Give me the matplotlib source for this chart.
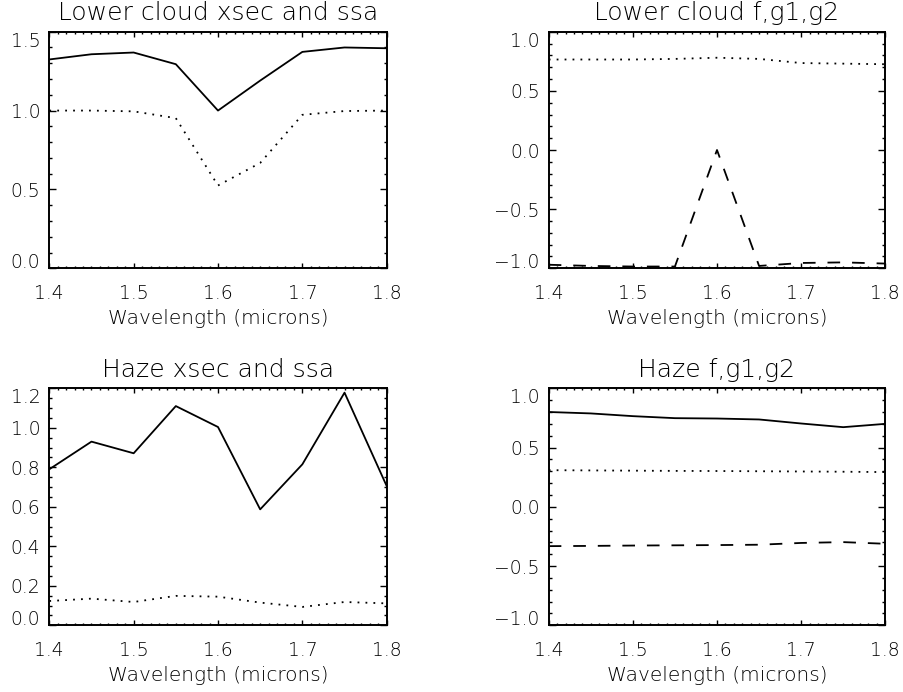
import matplotlib
matplotlib.use("Agg")
import matplotlib.pyplot as plt
from matplotlib.ticker import MultipleLocator, FormatStrFormatter, FuncFormatter

plt.rcParams['font.family'] = ['DejaVu Sans']
plt.rcParams['font.weight'] = 'light'
plt.rcParams['axes.titleweight'] = 'light'
plt.rcParams['axes.labelweight'] = 'light'

wavelength = [1.40, 1.45, 1.50, 1.55, 1.60, 1.65, 1.70, 1.75, 1.80]

# lower cloud: cross section and single scattering albedo
cloud_xsec = [1.324, 1.357, 1.368, 1.294, 1.000, 1.190, 1.372, 1.400, 1.395]
cloud_ssa = [1.000, 1.000, 0.995, 0.952, 0.525, 0.668, 0.973, 0.997, 1.000]

# lower cloud: f, g1, g2
cloud_f = [0.765, 0.765, 0.765, 0.770, 0.780, 0.770, 0.735, 0.730, 0.725]
cloud_g2 = [-0.970, -0.980, -0.985, -0.985, 0.000, -0.980, -0.955, -0.950, -0.960]

# haze: cross section and single scattering albedo
haze_xsec = [0.790, 0.930, 0.871, 1.110, 1.004, 0.587, 0.815, 1.178, 0.705]
haze_ssa = [0.123, 0.135, 0.118, 0.149, 0.145, 0.115, 0.093, 0.118, 0.111]

# haze: f, g1, g2
haze_f = [0.800, 0.788, 0.765, 0.748, 0.745, 0.737, 0.703, 0.672, 0.700]
haze_g1 = [0.309, 0.307, 0.305, 0.303, 0.302, 0.300, 0.298, 0.296, 0.293]
haze_g2 = [-0.332, -0.330, -0.327, -0.325, -0.323, -0.320, -0.305, -0.298, -0.312]

W, H = 904, 692
fig = plt.figure(figsize=(W / 100, H / 100), dpi=100)

def px_axes(x0, x1, y0, y1):
    return fig.add_axes([x0 / W, 1 - y1 / H, (x1 - x0) / W, (y1 - y0) / H])

SOLID = '-'
DOT = (0, (1, 3.4))
DASH = (0, (7, 6.6))

def yfmt(v, pos):
    return ('%.1f' % v).replace('-', '\u2212')

def style(ax, title, ylim, ymajor, yminor):
    ax.set_xlim(1.4, 1.8)
    ax.set_ylim(*ylim)
    ax.xaxis.set_major_locator(MultipleLocator(0.1))
    ax.xaxis.set_minor_locator(MultipleLocator(0.01))
    ax.yaxis.set_major_locator(MultipleLocator(ymajor))
    ax.yaxis.set_minor_locator(MultipleLocator(yminor))
    ax.xaxis.set_major_formatter(FormatStrFormatter('%.1f'))
    ax.yaxis.set_major_formatter(FuncFormatter(yfmt))
    ax.tick_params(which='both', direction='in', top=True, right=True, colors='black', width=1.0)
    ax.tick_params(axis='x', which='major', length=3.4, pad=11.5, labelsize=13.5)
    ax.tick_params(axis='x', which='minor', length=1.7)
    ax.tick_params(axis='y', which='major', length=4.8, pad=6.5, labelsize=13.5)
    ax.tick_params(axis='y', which='minor', length=2.4)
    for s in ax.spines.values():
        s.set_linewidth(1.4)
    ax.set_title(title, fontsize=18, pad=8.4)
    ax.set_xlabel('Wavelength (microns)', fontsize=14.5, labelpad=4)
    # keep the end labels inside the axis height
    fig.canvas.draw()
    ticks = [t for t in ax.yaxis.get_major_ticks()
             if ylim[0] - 1e-9 <= t.get_loc() <= ylim[1] + 1e-9]
    ticks[-1].label1.set_va('top')
    ticks[0].label1.set_va('baseline')

LW = 1.3

ax1 = px_axes(49.3, 386.7, 31.7, 268.3)
ax1.plot(wavelength, cloud_xsec, color='black', lw=LW, linestyle=SOLID)
ax1.plot(wavelength, cloud_ssa, color='black', lw=LW, linestyle=DOT)
style(ax1, 'Lower cloud xsec and ssa', (0.0, 1.5), 0.5, 0.1)

ax2 = px_axes(548.7, 885.3, 31.7, 268.3)
ax2.plot(wavelength, cloud_f, color='black', lw=LW, linestyle=DOT)
ax2.plot(wavelength, cloud_g2, color='black', lw=LW, linestyle=DASH)
style(ax2, 'Lower cloud f,g1,g2', (-1.0, 1.0), 0.5, 0.1)

ax3 = px_axes(49.3, 386.7, 388.3, 625.3)
ax3.plot(wavelength, haze_xsec, color='black', lw=LW, linestyle=SOLID)
ax3.plot(wavelength, haze_ssa, color='black', lw=LW, linestyle=DOT)
style(ax3, 'Haze xsec and ssa', (0.0, 1.2), 0.2, 0.05)

ax4 = px_axes(548.7, 885.3, 388.3, 625.3)
ax4.plot(wavelength, haze_f, color='black', lw=LW, linestyle=SOLID)
ax4.plot(wavelength, haze_g1, color='black', lw=LW, linestyle=DOT)
ax4.plot(wavelength, haze_g2, color='black', lw=LW, linestyle=DASH)
style(ax4, 'Haze f,g1,g2', (-1.0, 1.0), 0.5, 0.1)

fig.savefig('out.png', dpi=100, facecolor='white')
